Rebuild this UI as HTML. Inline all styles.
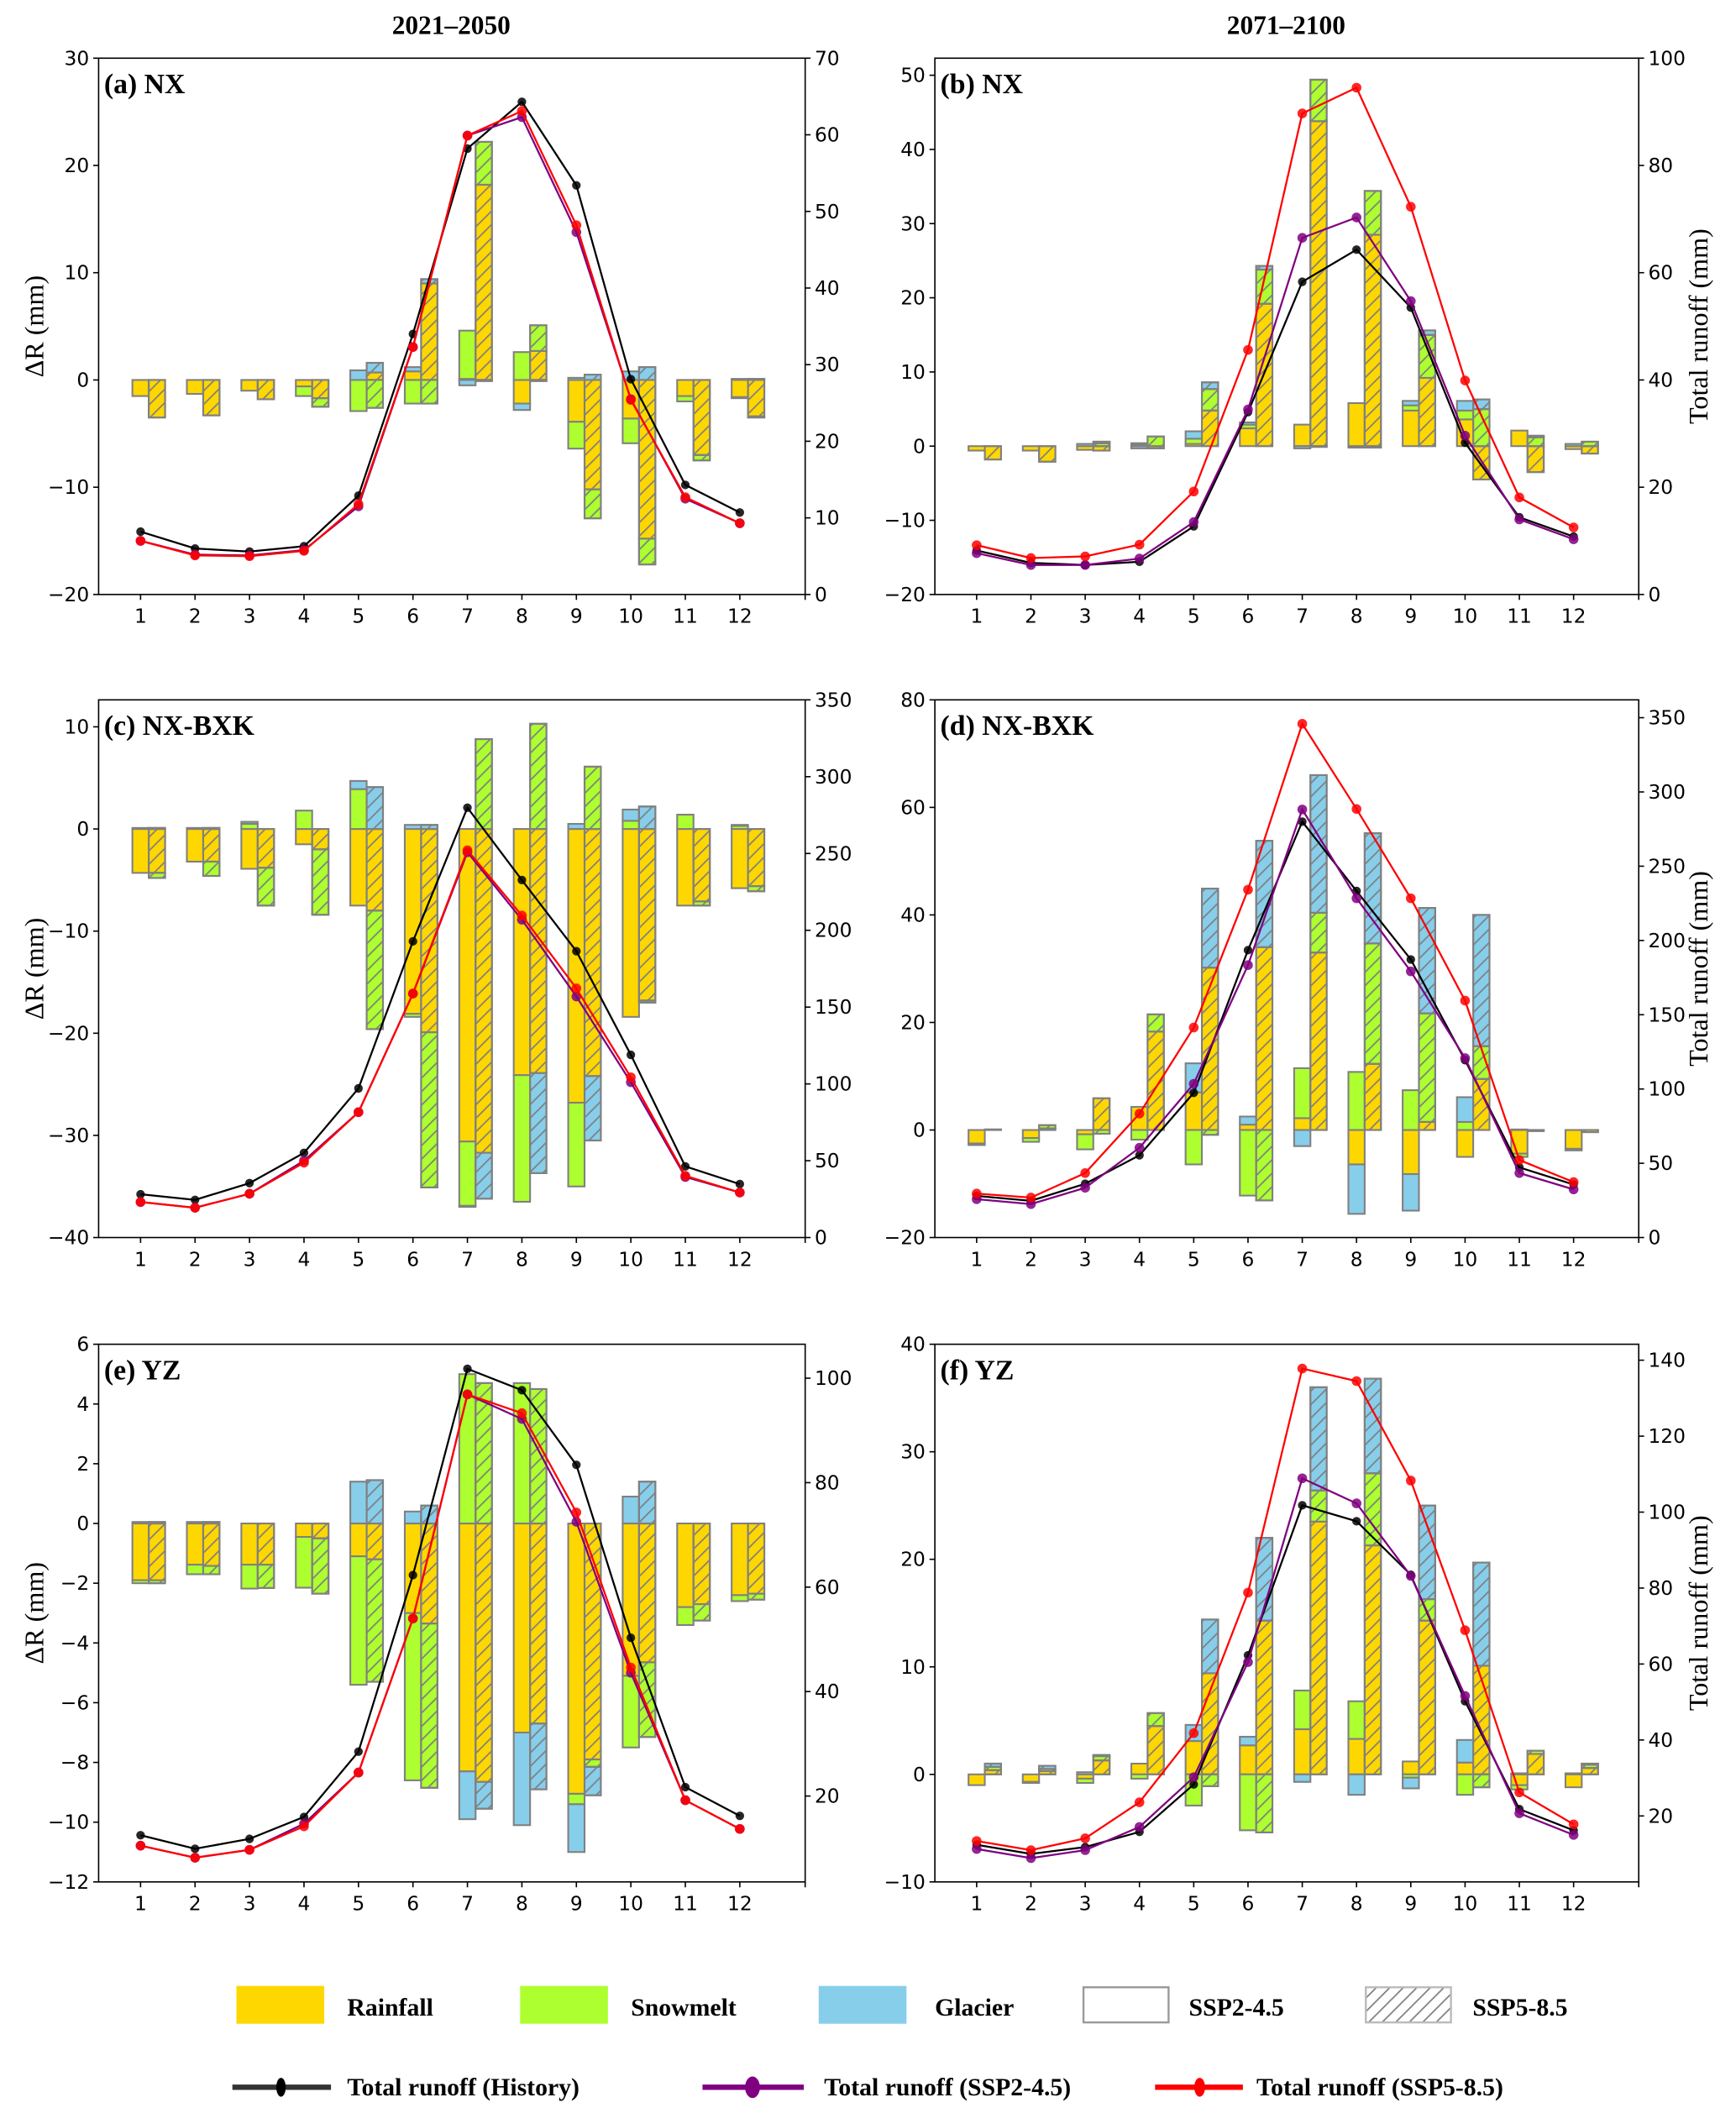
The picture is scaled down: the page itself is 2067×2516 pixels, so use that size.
<!DOCTYPE html>
<html><head><meta charset="utf-8">
<style>
html,body{margin:0;padding:0;background:#fff;}
svg{display:block;}
.tk{font-family:"DejaVu Sans","Liberation Sans",sans-serif;font-size:14.5px;fill:#000;}
.ser{font-family:"Liberation Serif",serif;font-weight:bold;fill:#000;}
</style></head>
<body>
<svg id="fig" xmlns="http://www.w3.org/2000/svg" width="2067" height="2516" viewBox="0 0 1285 1564">
<defs>
<pattern id="hatch" patternUnits="userSpaceOnUse" width="10" height="10">
<path d="M-2,12 L12,-2 M-2,2 L2,-2 M8,12 L12,8" stroke="#7f7f7f" stroke-width="1.1"/>
</pattern>
</defs>
<rect x="0" y="0" width="1285" height="1564" fill="#fff"/>
<text class="ser" x="334" y="25" font-size="19.5" text-anchor="middle">2021–2050</text>
<text class="ser" x="952" y="25" font-size="19.5" text-anchor="middle">2071–2100</text>
<g id="panels"></g>
<g id="legend">
<rect x="175" y="1470" width="65" height="28" fill="#FFD700"/>
<text class="ser" x="257" y="1492" font-size="18.5">Rainfall</text>
<rect x="385" y="1470" width="65" height="28" fill="#ADFF2F"/>
<text class="ser" x="467" y="1492" font-size="18.5">Snowmelt</text>
<rect x="606" y="1470" width="65" height="28" fill="#87CEEB"/>
<text class="ser" x="692" y="1492" font-size="18.5">Glacier</text>
<rect x="802" y="1471" width="63" height="26" fill="#fff" stroke="#9a9a9a" stroke-width="1.5"/>
<text class="ser" x="880" y="1492" font-size="18.5">SSP2-4.5</text>
<rect x="1011" y="1471" width="63" height="26" fill="url(#hatch)" stroke="#bbb" stroke-width="1.5"/>
<text class="ser" x="1090" y="1492" font-size="18.5">SSP5-8.5</text>
<g><line x1="172" y1="1545" x2="245" y2="1545" stroke="#333" stroke-width="4"/><ellipse cx="208" cy="1545" rx="3.5" ry="7" fill="#000"/></g>
<text class="ser" x="257" y="1551" font-size="18.5">Total runoff (History)</text>
<g><line x1="520" y1="1545" x2="595" y2="1545" stroke="#800080" stroke-width="4"/><ellipse cx="557" cy="1545" rx="5.5" ry="8" fill="#800080"/></g>
<text class="ser" x="610" y="1551" font-size="18.5">Total runoff (SSP2-4.5)</text>
<g><line x1="855" y1="1545" x2="920" y2="1545" stroke="#ff0000" stroke-width="4"/><ellipse cx="888" cy="1545" rx="4" ry="7" fill="#ff0000"/></g>
<text class="ser" x="930" y="1551" font-size="18.5">Total runoff (SSP5-8.5)</text>
</g>
</svg>
<script>
const months=[1,2,3,4,5,6,7,8,9,10,11,12];
// (a) NX 2021-2050
const aRain245=[-1.5,-1.3,-1.0,-0.6,0,0.8,0.1,-2.2,-3.9,-3.6,-1.5,-1.6];
const aSnow245=[0,0,0,-0.9,-2.9,-2.2,4.5,2.6,-2.5,-2.3,-0.5,-0.1];
const aGlac245=[0,0,0,0,0.9,0.4,-0.5,-0.6,0.2,0.8,0,0.1];
const aRain585=[-3.5,-3.3,-1.8,-1.7,0.7,9.0,18.2,2.7,-10.2,-14.8,-7.0,-3.4];
const aSnow585=[0,0,0,-0.8,-2.6,-2.2,4.0,2.4,-2.7,-2.4,-0.5,-0.1];
const aGlac585=[0,0,0,0,0.9,0.4,-0.1,-0.1,0.5,1.2,0,0.1];
const aHist=[8.2,6.0,5.6,6.3,12.9,34.0,58.2,64.3,53.4,28.1,14.3,10.7];
const aSsp245=[7.0,5.2,5.1,5.8,11.5,32.3,59.9,62.3,47.3,25.5,12.5,9.3];
const aSsp585=[7.0,5.1,5.0,5.7,11.8,32.3,59.9,63.1,48.2,25.4,12.7,9.3];
// (b) NX 2071-2100
const bRain245=[-0.6,-0.6,-0.5,0.2,0.3,2.4,2.9,5.8,4.8,3.6,2.1,-0.4];
const bSnow245=[0,0,0,0.2,0.7,0.5,0,0,0.7,1.2,0,0];
const bGlac245=[0,0,0.3,-0.3,1.0,0.3,-0.3,-0.2,0.6,1.3,0,0.3];
const bRain585=[-1.8,-2.1,-0.6,-0.3,4.8,19.2,43.8,28.5,9.2,-4.5,-3.5,-1.0];
const bSnow585=[0,0,0.4,1.3,2.9,4.6,5.6,5.9,5.8,5.0,1.2,0.6];
const bGlac585=[0,0,0.2,0,0.9,0.5,-0.1,-0.2,0.6,1.3,0.2,0];
const bHist=[8.2,5.9,5.5,6.1,12.7,34.0,58.3,64.3,53.5,28.3,14.4,10.8];
const bSsp245=[7.7,5.5,5.5,6.7,13.5,34.5,66.5,70.3,54.7,29.6,14.0,10.3];
const bSsp585=[9.2,6.8,7.1,9.3,19.2,45.6,89.7,94.5,72.3,39.9,18.1,12.5];
// (c) NX-BXK 2021-2050
const cRain245=[-4.3,-3.2,-3.9,-1.5,-7.5,-18.1,-30.6,-24.1,-26.8,-18.4,-7.5,-5.8];
const cSnow245=[0,0,0.5,1.8,3.9,-0.3,-6.3,-12.4,-8.2,0.8,1.4,0.3];
const cGlac245=[0.1,0.1,0.2,0,0.8,0.4,-0.1,0,0.5,1.1,0,0.1];
const cRain585=[-4.3,-3.2,-3.8,-2.0,-8.0,-19.9,-31.7,-23.9,-24.2,-16.8,-7.1,-5.6];
const cSnow585=[-0.5,-1.4,-3.7,-6.4,-11.6,-15.2,8.8,10.3,6.1,-0.2,-0.4,-0.5];
const cGlac585=[0.1,0.1,0,0,4.1,0.4,-4.5,-9.8,-6.3,2.2,0,0];
const cHist=[28.2,24.5,35.4,55.1,97.1,192.8,279.8,232.7,186.4,118.9,46.3,34.8];
const cSsp245=[23.1,19.4,28.5,50.0,81.6,158.8,250.8,206.9,156.9,101.1,39.4,29.3];
const cSsp585=[23.1,19.4,28.5,48.7,81.6,158.8,252.1,209.6,162.2,104.3,40.2,29.3];
// (d) NX-BXK 2071-2100
const dRain245=[-2.5,-1.5,-0.8,4.3,7.0,1.0,2.2,-6.4,-8.2,-5.0,-4.4,-3.5];
const dSnow245=[-0.3,-0.7,-2.8,-1.8,-6.4,-12.2,9.3,10.8,7.4,1.5,-0.6,-0.3];
const dGlac245=[0,0,0,0,5.4,1.5,-3.0,-9.2,-6.8,4.6,0.1,0];
const dRain585=[0.1,0.3,5.9,18.3,30.2,34.0,33.0,12.3,1.5,9.5,-0.2,-0.4];
const dSnow585=[0,0.6,-0.7,3.2,-0.9,-13.1,7.4,22.4,20.2,6.1,0,0];
const dGlac585=[0,0,0,0,14.7,19.8,25.6,20.5,19.6,24.4,0,0];
const dHist=[28.0,24.7,36.2,55.4,97.4,193.5,280.0,233.3,187.2,119.4,47.2,35.7];
const dSsp245=[25.8,22.5,33.5,60.4,103.5,183.4,288.2,228.4,179.2,120.8,43.4,32.4];
const dSsp585=[29.6,26.9,43.4,83.4,141.4,234.2,345.9,288.5,228.4,159.5,52.2,37.3];
// (e) YZ 2021-2050
const eRain245=[-1.9,-1.38,-1.38,-0.45,-1.1,-3.0,-8.3,-7.0,-9.05,-5.1,-2.8,-2.4];
const eSnow245=[-0.1,-0.32,-0.8,-1.7,-4.3,-5.6,5.0,4.7,-0.35,-2.4,-0.6,-0.2];
const eGlac245=[0.05,0.05,0,0,1.4,0.4,-1.6,-3.1,-1.6,0.9,0,0];
const eRain585=[-1.9,-1.42,-1.38,-0.5,-1.2,-3.35,-8.65,-6.7,-7.9,-4.65,-2.7,-2.35];
const eSnow585=[-0.1,-0.28,-0.78,-1.85,-4.1,-5.5,4.7,4.5,-0.25,-2.5,-0.55,-0.2];
const eGlac585=[0.05,0.05,0,0,1.45,0.6,-0.9,-2.2,-0.95,1.4,0,0];
const eHist=[12.5,9.9,11.8,16.0,28.5,62.3,101.8,97.7,83.4,50.3,21.7,16.2];
const eSsp245=[10.5,8.2,9.7,14.7,24.5,54.0,96.9,92.2,72.5,43.6,19.2,13.7];
const eSsp585=[10.5,8.2,9.7,14.2,24.5,54.0,96.9,93.3,74.3,44.6,19.2,13.7];
// (f) YZ 2071-2100
const fRain245=[-1.0,-0.7,-0.4,1.0,3.1,2.7,4.2,3.3,1.2,1.1,-1.0,-1.2];
const fSnow245=[0,-0.1,-0.4,-0.4,-2.9,-5.2,3.6,3.5,-0.3,-1.9,-0.4,0];
const fGlac245=[0,0,0.2,0,1.5,0.8,-0.7,-1.9,-1.0,2.1,0.1,0.1];
const fRain585=[0.4,0.3,1.3,4.5,9.4,14.3,23.5,21.3,14.3,10.1,1.9,0.6];
const fSnow585=[0.3,0.2,0.4,1.2,-1.1,-5.4,2.9,6.7,2.0,-1.2,0.3,0.3];
const fGlac585=[0.3,0.3,0.1,0,5.0,7.7,9.6,8.8,8.7,9.6,0,0.1];
const fHist=[12.4,10.0,11.8,15.8,28.3,62.3,101.8,97.6,83.5,50.2,21.8,16.2];
const fSsp245=[11.3,8.9,11.0,17.1,30.2,60.5,108.9,102.3,83.2,51.6,20.7,15.0];
const fSsp585=[13.4,11.0,14.1,23.6,41.8,78.8,137.8,134.5,108.3,68.9,26.2,17.8];

// tick label arrays
const aLeftTicks=[-20,-10,0,10,20,30], aRightTicks=[0,10,20,30,40,50,60,70];
const bLeftTicks=[-20,-10,0,10,20,30,40,50], bRightTicks=[0,20,40,60,80,100];
const cLeftTicks=[-40,-30,-20,-10,0,10], cRightTicks=[0,50,100,150,200,250,300,350];
const dLeftTicks=[-20,0,20,40,60,80], dRightTicks=[0,50,100,150,200,250,300,350];
const eLeftTicks=[-12,-10,-8,-6,-4,-2,0,2,4,6], eRightTicks=[20,40,60,80,100];
const fLeftTicks=[-10,0,10,20,30,40], fRightTicks=[20,40,60,80,100,120,140];

const NS='http://www.w3.org/2000/svg';
const COL={rain:'#FFD700',snow:'#ADFF2F',glac:'#87CEEB'};
function mk(tag,attrs,parent){const e=document.createElementNS(NS,tag);for(const k in attrs)e.setAttribute(k,attrs[k]);if(parent)parent.appendChild(e);return e;}
const root=document.getElementById('panels');

const panels=[
 {id:'a',label:'(a) NX',L:73,R:596,T:43,B:440,yl:[-20,30],yr:[0,70],lt:aLeftTicks,rt:aRightTicks,r2:aRain245,s2:aSnow245,g2:aGlac245,r5:aRain585,s5:aSnow585,g5:aGlac585,h:aHist,p:aSsp245,q:aSsp585,left:true},
 {id:'b',label:'(b) NX',L:692,R:1213,T:43,B:440,yl:[-20,52.3],yr:[0,100],lt:bLeftTicks,rt:bRightTicks,r2:bRain245,s2:bSnow245,g2:bGlac245,r5:bRain585,s5:bSnow585,g5:bGlac585,h:bHist,p:bSsp245,q:bSsp585,left:false},
 {id:'c',label:'(c) NX-BXK',L:73,R:596,T:518,B:916,yl:[-40,12.64],yr:[0,350],lt:cLeftTicks,rt:cRightTicks,r2:cRain245,s2:cSnow245,g2:cGlac245,r5:cRain585,s5:cSnow585,g5:cGlac585,h:cHist,p:cSsp245,q:cSsp585,left:true},
 {id:'d',label:'(d) NX-BXK',L:692,R:1213,T:518,B:916,yl:[-20,80],yr:[0,362],lt:dLeftTicks,rt:dRightTicks,r2:dRain245,s2:dSnow245,g2:dGlac245,r5:dRain585,s5:dSnow585,g5:dGlac585,h:dHist,p:dSsp245,q:dSsp585,left:false},
 {id:'e',label:'(e) YZ',L:73,R:596,T:995,B:1393,yl:[-12,6],yr:[3.56,106.5],lt:eLeftTicks,rt:eRightTicks,r2:eRain245,s2:eSnow245,g2:eGlac245,r5:eRain585,s5:eSnow585,g5:eGlac585,h:eHist,p:eSsp245,q:eSsp585,left:true},
 {id:'f',label:'(f) YZ',L:692,R:1213,T:995,B:1393,yl:[-10,40],yr:[2.63,144.2],lt:fLeftTicks,rt:fRightTicks,r2:fRain245,s2:fSnow245,g2:fGlac245,r5:fRain585,s5:fSnow585,g5:fGlac585,h:fHist,p:fSsp245,q:fSsp585,left:false}
];
const XLIM=[0.23,13.2];
function fmt(v){return v<0?'\u2212'+Math.abs(v):String(v);}

panels.forEach(P=>{
 const g=mk('g',{},root);
 
 
 const xs=m=>P.L+(m-XLIM[0])/(XLIM[1]-XLIM[0])*(P.R-P.L);
 const yL=v=>P.B-(v-P.yl[0])/(P.yl[1]-P.yl[0])*(P.B-P.T);
 const yR=v=>P.B-(v-P.yr[0])/(P.yr[1]-P.yr[0])*(P.B-P.T);
 const bw=xs(1.3)-xs(1);
 const drawBars=(rain,snow,glac,off,hatched,scen)=>{
  months.forEach((m,i)=>{
   let pos=0,neg=0;
   [['rain',rain[i]],['snow',snow[i]],['glac',glac[i]]].forEach(([k,v])=>{
    if(v===0)return;
    let y0,y1;
    if(v>0){y0=pos;y1=pos+v;pos=y1;}else{y0=neg;y1=neg+v;neg=y1;}
    const top=yL(Math.max(y0,y1)),bot=yL(Math.min(y0,y1));
    const x=xs(m+off);
    const r=mk('rect',{x:x,y:top,width:bw,height:Math.max(bot-top,0.3),fill:COL[k],stroke:'#808080','stroke-width':1.3},g);
    
    
    if(hatched){const h=mk('rect',{x:x,y:top,width:bw,height:Math.max(bot-top,0.3),fill:'url(#hatch)',stroke:'#808080','stroke-width':1.3},g);
     
     }
   });
  });
 };
 drawBars(P.r2,P.s2,P.g2,-0.15,false,'ssp245');
 drawBars(P.r5,P.s5,P.g5,0.15,true,'ssp585');
 const drawLine=(vals,color,rad,name)=>{
  const pts=months.map((m,i)=>xs(m)+','+yR(vals[i])).join(' ');
  const pl=mk('polyline',{points:pts,fill:'none',stroke:color,'stroke-width':1.4},g);
  
  
  months.forEach((m,i)=>{
   const c=mk('circle',{cx:xs(m),cy:yR(vals[i]),r:rad,fill:color,'fill-opacity':0.85},g);
   
   
  });
 };
 drawLine(P.h,'#000000',3.2,'history');
 drawLine(P.p,'#800080',3.6,'ssp245');
 drawLine(P.q,'#ff0000',3.6,'ssp585');
 const fr=mk('rect',{x:P.L,y:P.T,width:P.R-P.L,height:P.B-P.T,fill:'none',stroke:'#000','stroke-width':1},g);
 
 
 months.forEach(m=>{
  const x=xs(m);
  mk('line',{x1:x,y1:P.B,x2:x,y2:P.B+4,stroke:'#000','stroke-width':1},g);
  const t=mk('text',{x:x,y:P.B+21,'text-anchor':'middle',class:'tk'},g);
  t.textContent=m;
  
  
 });
 mk('line',{x1:P.R,y1:P.B,x2:P.R,y2:P.B+4,stroke:'#000','stroke-width':1},g);
 P.lt.forEach(v=>{
  const y=yL(v);
  mk('line',{x1:P.L-4,y1:y,x2:P.L,y2:y,stroke:'#000','stroke-width':1},g);
  const t=mk('text',{x:P.L-7,y:y+5,'text-anchor':'end',class:'tk'},g);
  t.textContent=fmt(v);
  
  
 });
 P.rt.forEach(v=>{
  const y=yR(v);
  mk('line',{x1:P.R,y1:y,x2:P.R+4,y2:y,stroke:'#000','stroke-width':1},g);
  const t=mk('text',{x:P.R+7,y:y+5,'text-anchor':'start',class:'tk'},g);
  t.textContent=fmt(v);
  
  
 });
 const lb=mk('text',{x:P.L+4,y:P.T+26,class:'ser','font-size':21},g);
 lb.textContent=P.label;
 
 
 const cy=(P.T+P.B)/2;
 if(P.left){
  const t=mk('text',{x:0,y:0,transform:'translate(32,'+cy+') rotate(-90)','text-anchor':'middle','font-family':'"Liberation Serif",serif','font-size':20},g);
  t.textContent='\u0394R (mm)';
  
  
 }else{
  const t=mk('text',{x:0,y:0,transform:'translate(1264,'+cy+') rotate(-90)','text-anchor':'middle','font-family':'"Liberation Serif",serif','font-size':20},g);
  t.textContent='Total runoff (mm)';
  
  
 }
});
</script>
</body></html>
